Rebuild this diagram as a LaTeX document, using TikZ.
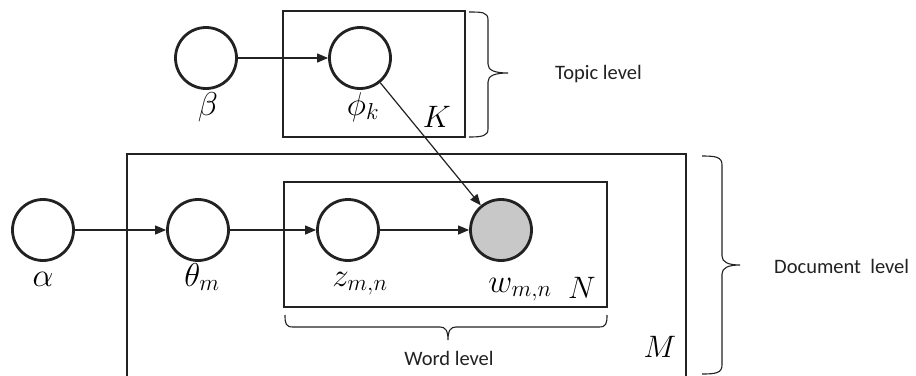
\RequirePackage{fix-cm}
\documentclass[tikz,border=0pt]{standalone}
\usepackage{fontspec}
\setmainfont{Carlito}
\usetikzlibrary{arrows.meta}
\definecolor{ink}{HTML}{222222}
\definecolor{obs}{HTML}{C8C8C8}
\tikzset{
  var/.style={circle, draw=ink, line width=2.8pt, minimum size=61pt, inner sep=0pt, fill=white},
  obsvar/.style={var, fill=obs},
  plate/.style={draw=ink, line width=2.9pt},
  edge/.style={draw=ink, line width=1.2pt, -{Triangle[length=11pt,width=9pt]}},
  brace/.style={draw=ink, line width=1.1pt},
  mlab/.style={anchor=base, inner sep=0pt, font=\fontsize{33}{36}\selectfont},
  plab/.style={anchor=base, inner sep=0pt, font=\fontsize{31}{33}\selectfont},
  tlab/.style={anchor=west, inner sep=0pt, font=\fontsize{20.5}{24}\selectfont, text=ink},
}
\begin{document}
\begin{tikzpicture}[x=1pt,y=-1pt]
\clip (0,0) rectangle (916,375);
\fill[white] (0,0) rectangle (916,375);
% plates
\draw[plate] (283,11) rectangle (465,137);
\draw[plate] (127,154) rectangle (686,400);
\draw[plate] (284,182) rectangle (607,307);
% variables
\node[var] (beta) at (206,58) {};
\node[var] (phi) at (360,58) {};
\node[var] (alpha) at (43,230) {};
\node[var] (theta) at (198,230) {};
\node[var] (z) at (348,230) {};
\node[obsvar] (w) at (501,230) {};
% labels
\node[mlab] (lbeta) at (208,115) {$\beta$};
\node[mlab] (lphi) at (363,115) {$\phi_k$};
\node[plab] (lK) at (437,127) {$K$};
\node[mlab] (lalpha) at (43,286) {$\alpha$};
\node[mlab] (ltheta) at (202,286) {$\theta_m$};
\node[mlab] (lz) at (360,286) {$z_{m,n}$};
\node[mlab] (lw) at (520,292) {$w_{m,n}$};
\node[plab] (lN) at (582,298) {$N$};
\node[plab] (lM) at (660,357) {$M$};
% edges
\draw[edge] (beta) -- (phi);
\draw[edge] (alpha) -- (theta);
\draw[edge] (theta) -- (z);
\draw[edge] (z) -- (w);
\draw[edge] (phi) -- (w);
% braces
\draw[brace] (469,12) .. controls (482,12) and (488,12) .. (488,20) -- (488,64)
  .. controls (488,70) and (494,73) .. (508,73)
  .. controls (494,73) and (488,76) .. (488,82) -- (488,129)
  .. controls (488,136) and (482,137) .. (469,137);
\node[tlab] (ltopic) at (555,74) {Topic level};
\draw[brace] (702,156) .. controls (716,156) and (722,157) .. (722,165) -- (722,256)
  .. controls (722,262) and (728,265) .. (740,265)
  .. controls (728,265) and (722,268) .. (722,274) -- (722,365)
  .. controls (722,373) and (716,374) .. (702,374);
\node[tlab] (ldoc) at (774,266) {Document\ \ level};
\draw[brace] (285,315) .. controls (285,324) and (286,327) .. (293,327) -- (440,327)
  .. controls (445,327) and (448,330) .. (448,340)
  .. controls (448,330) and (451,327) .. (456,327) -- (599,327)
  .. controls (606,327) and (607,324) .. (607,315);
\node[tlab, anchor=center] (lword) at (449,358) {Word level};
\end{tikzpicture}
\end{document}
